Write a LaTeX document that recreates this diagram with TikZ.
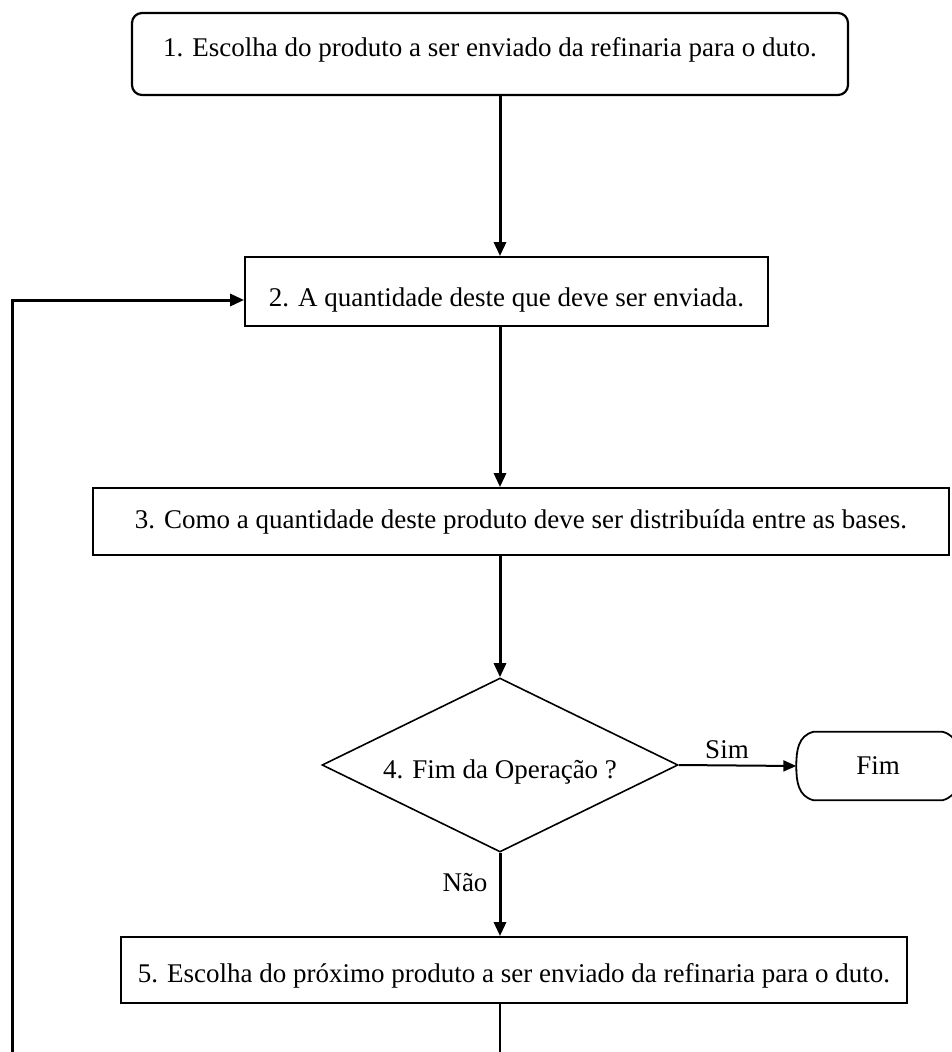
\documentclass[tikz,border=0pt]{standalone}
\usepackage{fontspec}
\setmainfont{Liberation Serif}
\usetikzlibrary{arrows.meta,shapes.geometric,calc}
\begin{document}
\begin{tikzpicture}[x=1pt,y=-1pt,
  every node/.style={font=\fontsize{27}{30}\selectfont, inner sep=0pt},
  procbox/.style={draw, rectangle, line width=1.8pt},
  decision/.style={draw, diamond, shape aspect=2.05, line width=1.6pt},
  flow/.style={line width=3pt, line join=miter, -{Triangle[length=14pt,width=12pt]}},
  thinflow/.style={line width=2pt, -{Triangle[length=13pt,width=11pt]}},
  plain/.style={line width=1.6pt}]
\useasboundingbox (0,0) rectangle (951,1052);

% process steps
\node[procbox, rounded corners=10pt, line width=2.2pt, minimum width=716pt, minimum height=82pt,
      text height=18pt, text depth=14pt] (s1) at (490,54)
      {1. Escolha do produto a ser enviado da refinaria para o duto.};
\node[procbox, minimum width=523pt, minimum height=69pt, text height=29pt, text depth=0pt] (s2) at (506.5,291.5)
      {2. A quantidade deste que deve ser enviada.};
\node[procbox, minimum width=856pt, minimum height=67pt] (s3) at (521,521.5)
      {3. Como a quantidade deste produto deve ser distribuída entre as bases.};
\node[decision, minimum width=356pt, minimum height=174pt, text height=26pt, text depth=0pt] (d4) at (500,765)
      {4. Fim da Operação ?};
\node[procbox, minimum width=786pt, minimum height=66pt, text height=24pt, text depth=0pt] (s5) at (514,970)
      {5. Escolha do próximo produto a ser enviado da refinaria para o duto.};

% terminator
\node[minimum width=163pt, minimum height=68pt] (fim) at (878,766) {Fim};
\draw[line width=1.8pt]
  ($(fim.north west)+(17,0)$) -- ($(fim.north east)+(-17,0)$)
  .. controls ($(fim.north east)+(-2,4)$) and ($(fim.east)+(0,-16)$) .. (fim.east)
  .. controls ($(fim.east)+(0,16)$) and ($(fim.south east)+(-2,-4)$) .. ($(fim.south east)+(-17,0)$)
  -- ($(fim.south west)+(17,0)$)
  .. controls ($(fim.south west)+(2,-4)$) and ($(fim.west)+(0,16)$) .. (fim.west)
  .. controls ($(fim.west)+(0,-16)$) and ($(fim.north west)+(2,4)$) .. cycle;

% labels
\node (sim) at (727,750) {Sim};
\node (nao) at (465,883) {Não};

% connectors
\coordinate (spine) at (500,0);
\coordinate (out5) at (500,1052);
\coordinate (loopbot) at (12,1052);
\coordinate (loopturn) at (12,300);

\draw[flow] (spine |- s1.south) -- (spine |- s2.north);
\draw[flow] (spine |- s2.south) -- (spine |- s3.north);
\draw[flow] (spine |- s3.south) -- (d4.north);
\draw[flow] (d4.south) -- (spine |- s5.north);
\draw[thinflow] (d4.east) -- (fim.west);
\draw[plain] (out5 |- s5.south) -- (out5);
\draw[flow] (loopbot) -- (loopturn) -- (loopturn -| s2.west);
\end{tikzpicture}
\end{document}
